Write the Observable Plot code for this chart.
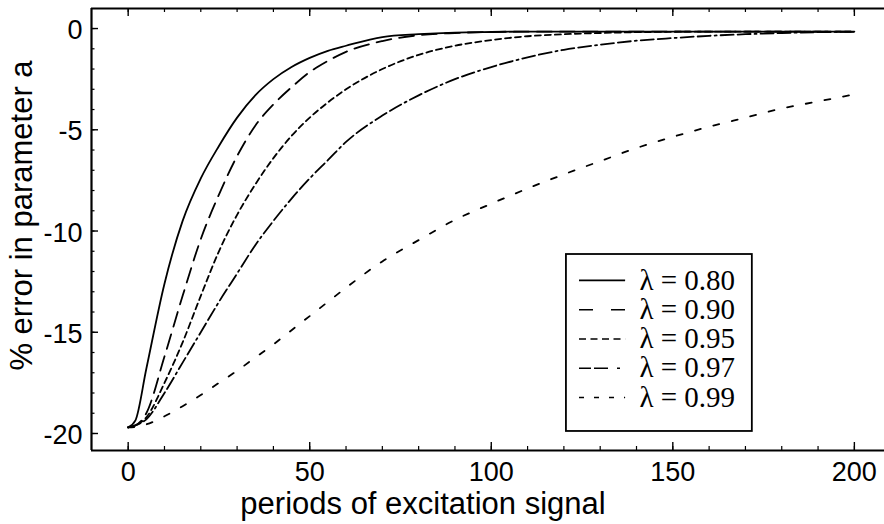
<!DOCTYPE html>
<html>
<head>
<meta charset="utf-8">
<script src="https://cdn.jsdelivr.net/npm/d3@7"></script>
<script src="https://cdn.jsdelivr.net/npm/@observablehq/plot@0.6"></script>
<style>
  html, body { margin: 0; padding: 0; background: #fff; }
  #chart svg { display: block; }
</style>
</head>
<body>
<div id="chart"></div>
<script>
// ---------- data ----------
const periods = [0, 2, 5, 10, 15, 20, 25, 30, 35, 40, 45, 50, 55, 60, 70, 80, 90, 100, 110, 120, 130, 140, 150, 160, 170, 180, 190, 200];

const err080 = [-19.7, -19.35, -16.8, -12.6, -9.5, -7.4, -5.8, -4.4, -3.3, -2.5, -1.9, -1.45, -1.1, -0.85, -0.42, -0.28, -0.2, -0.17, -0.15, -0.15, -0.15, -0.15, -0.15, -0.15, -0.15, -0.15, -0.15, -0.15];
const err090 = [-19.7, -19.6, -19.0, -16.2, -13.2, -10.4, -8.2, -6.3, -4.8, -3.75, -2.9, -2.15, -1.6, -1.15, -0.62, -0.33, -0.22, -0.17, -0.15, -0.15, -0.15, -0.15, -0.15, -0.15, -0.15, -0.15, -0.15, -0.15];
const err095 = [-19.7, -19.6, -19.2, -17.5, -15.5, -13.2, -11.0, -9.2, -7.7, -6.4, -5.3, -4.4, -3.65, -3.0, -2.0, -1.3, -0.85, -0.57, -0.38, -0.28, -0.22, -0.18, -0.16, -0.15, -0.15, -0.15, -0.15, -0.15];
const err097 = [-19.7, -19.6, -19.3, -18.0, -16.5, -15.0, -13.5, -12.1, -10.7, -9.5, -8.4, -7.4, -6.5, -5.6, -4.3, -3.3, -2.5, -1.9, -1.42, -1.05, -0.8, -0.6, -0.47, -0.36, -0.28, -0.22, -0.18, -0.16];
const err099 = [-19.7, -19.68, -19.55, -19.15, -18.65, -18.1, -17.5, -16.9, -16.25, -15.6, -14.9, -14.2, -13.5, -12.8, -11.5, -10.45, -9.45, -8.65, -7.9, -7.2, -6.55, -5.9, -5.35, -4.85, -4.4, -3.95, -3.6, -3.25];

const lambdaLabels = ["λ = 0.80", "λ = 0.90", "λ = 0.95", "λ = 0.97", "λ = 0.99"];

const xMajorTicks = [0, 50, 100, 150, 200];
const xMinorTicks = [0, 10, 20, 30, 40, 50, 60, 70, 80, 90, 100, 110, 120, 130, 140, 150, 160, 170, 180, 190, 200];
const yMajorTicks = [0, -5, -10, -15, -20];
const yMinorTicks = [0, -1, -2, -3, -4, -5, -6, -7, -8, -9, -10, -11, -12, -13, -14, -15, -16, -17, -18, -19, -20];

const xTitle = "periods of excitation signal";
const yTitle = "% error in parameter a";

// ---------- layout / style ----------
const W = 884, H = 524;
const mL = 91, mR = 0, mT = 8, mB = 74;
const innerW = W - mL - mR, innerH = H - mT - mB;
const xDomain = [-10.1, 208.3];
const yDomain = [-20.84, 0.99];

const series = [err080, err090, err095, err097, err099];
const curveDash = [null, "15,8", "6,4", "13,4,13,4,2,4", "6,13"];
const legendDash = [null, "14,18", "7,4.5", "12,3,14,9,3", "5,10"];

// legend placement (data units)
const legX1 = 120.7, legX2 = 171.9, legY1 = -11.16, legY2 = -19.9;
const legLineX1 = 124.3, legLineX2 = 137.0, legTextX = 140.8;
const legRow0 = -12.44, legStep = 1.445;

const axisFont = "'Liberation Sans', Arial, Helvetica, sans-serif";
const serifFont = "'Liberation Serif', 'Times New Roman', Times, serif";

const marks = [];

// curves
series.forEach((vals, i) => {
  marks.push(Plot.line(vals, {
    x: periods, y: vals,
    curve: "monotone-x",
    stroke: "black",
    strokeWidth: 1.8,
    strokeDasharray: curveDash[i] || undefined
  }));
});

// frame (top, left, bottom)
marks.push(Plot.ruleY([yDomain[0]], {stroke: "black", strokeWidth: 2.2}));
marks.push(Plot.ruleY([yDomain[1]], {stroke: "black", strokeWidth: 2}));
marks.push(Plot.ruleX([xDomain[0]], {stroke: "black", strokeWidth: 2.2}));

// inward ticks
marks.push(Plot.ruleX(xMajorTicks, {x: d => d, insetTop: innerH - 8, stroke: "black", strokeWidth: 1.4}));
marks.push(Plot.ruleX(xMinorTicks, {x: d => d, insetTop: innerH - 4, stroke: "black", strokeWidth: 1.2}));
marks.push(Plot.ruleX(xMajorTicks, {x: d => d, insetBottom: innerH - 8, stroke: "black", strokeWidth: 1.4}));
marks.push(Plot.ruleX(xMinorTicks, {x: d => d, insetBottom: innerH - 4, stroke: "black", strokeWidth: 1.2}));
marks.push(Plot.ruleY(yMajorTicks, {y: d => d, insetRight: innerW - 7, stroke: "black", strokeWidth: 1.4}));
marks.push(Plot.ruleY(yMinorTicks, {y: d => d, insetRight: innerW - 3.5, stroke: "black", strokeWidth: 1.2}));

// tick labels
marks.push(Plot.text(xMajorTicks, {
  x: d => d, text: d => String(d), frameAnchor: "bottom",
  lineAnchor: "top", dy: 11, fontSize: 27, fill: "black", fontFamily: axisFont
}));
marks.push(Plot.text(yMajorTicks, {
  y: d => d, text: d => String(d), frameAnchor: "left",
  textAnchor: "end", lineAnchor: "middle", dx: -9, dy: 2, fontSize: 27, fill: "black", fontFamily: axisFont
}));

// axis titles
marks.push(Plot.text([xTitle], {
  text: d => d, frameAnchor: "bottom", lineAnchor: "bottom", textAnchor: "middle",
  dx: -65, dy: 63, fontSize: 31, fill: "black", fontFamily: axisFont
}));
marks.push(Plot.text([yTitle], {
  text: d => d, frameAnchor: "left", lineAnchor: "bottom", textAnchor: "middle", rotate: -90,
  dx: -60, dy: -14, fontSize: 31, fill: "black", fontFamily: axisFont
}));

// legend
marks.push(Plot.rect([0], {x1: legX1, x2: legX2, y1: legY1, y2: legY2, fill: "white", stroke: "black", strokeWidth: 1.8}));
lambdaLabels.forEach((lab, i) => {
  const yy = legRow0 - i * legStep;
  marks.push(Plot.ruleY([yy], {y: d => d, x1: legLineX1, x2: legLineX2, stroke: "black", strokeWidth: 1.6, strokeDasharray: legendDash[i] || undefined}));
  marks.push(Plot.text([lab], {x: legTextX, y: yy, text: d => d, textAnchor: "start", lineAnchor: "middle", fontSize: 29, fill: "black", fontFamily: serifFont}));
});

const chart = Plot.plot({
  width: W, height: H,
  marginLeft: mL, marginRight: mR, marginTop: mT, marginBottom: mB,
  x: {domain: xDomain, axis: null},
  y: {domain: yDomain, axis: null},
  style: {background: "white", color: "black", fontFamily: axisFont, overflow: "visible"},
  marks
});
document.getElementById("chart").appendChild(chart);
</script>
</body>
</html>
